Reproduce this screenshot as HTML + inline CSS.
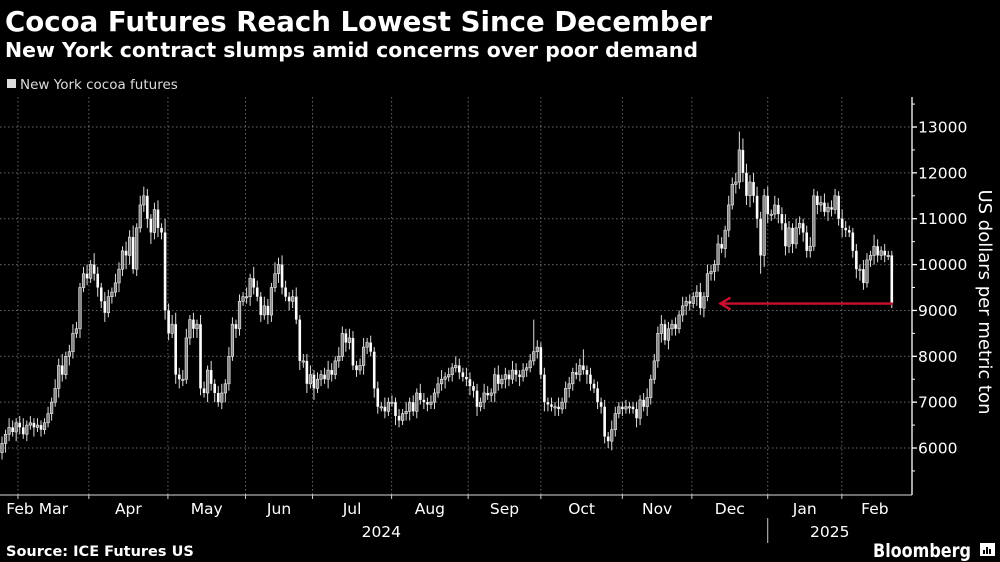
<!DOCTYPE html>
<html><head><meta charset="utf-8"><style>
html,body{margin:0;padding:0;background:#000;}
svg{display:block;}
text{font-family:"DejaVu Sans","Liberation Sans",sans-serif;}
</style></head><body>
<svg id="chart" width="1000" height="562" viewBox="0 0 1000 562" xmlns="http://www.w3.org/2000/svg">
<rect width="1000" height="562" fill="#000"/>
<text x="5" y="31" fill="#fff" font-weight="bold" font-size="28" textLength="707" lengthAdjust="spacingAndGlyphs">Cocoa Futures Reach Lowest Since December</text>
<text x="5" y="57" fill="#fff" font-weight="bold" font-size="20" textLength="693" lengthAdjust="spacingAndGlyphs">New York contract slumps amid concerns over poor demand</text>
<rect x="7" y="79" width="9" height="9" fill="#ddd"/>
<text x="20" y="89" fill="#ddd" font-size="13.5">New York cocoa futures</text>
<g id="grid"></g>
<g id="candles"></g>
<g id="axes"></g>
<text transform="translate(979,302) rotate(90)" text-anchor="middle" fill="#fff" font-size="18">US dollars per metric ton</text>
<text x="6" y="556" fill="#fff" font-weight="bold" font-size="14.5">Source: ICE Futures US</text>
<text x="873" y="557" fill="#fff" font-weight="bold" font-size="19" textLength="98" lengthAdjust="spacingAndGlyphs">Bloomberg</text>
<g>
<rect x="980" y="543" width="15" height="13" fill="#fff"/>
<rect x="983" y="550" width="2" height="4" fill="#000"/><rect x="986" y="547" width="2" height="7" fill="#000"/><rect x="989" y="549" width="2" height="5" fill="#000"/>
</g>
</svg>
<script>
const closes = [
6100,6300,6450,6350,6550,6450,6300,6500,6550,6450,
6500,6400,6550,6750,7000,7300,7800,7600,8000,8100,
8500,8600,9500,9800,9700,10000,9800,9500,9200,8950,
9300,9400,9600,9900,10300,10200,10600,9900,10800,11300,
11500,11000,10700,11200,10800,10700,9000,8500,8700,7600,
7500,7500,8400,8800,8600,8700,7300,7200,7700,7400,
7200,7000,7200,7400,8000,8700,8600,9200,9300,9300,
9700,9500,9300,8900,9100,8900,9500,9800,10000,9500,
9300,9200,9300,8800,7900,7900,7400,7600,7300,7500,
7600,7500,7700,7600,7900,8000,8500,8300,8400,7800,
7700,7800,8200,8300,8100,7300,6900,6900,6800,7000,
7000,6700,6600,6750,6800,7000,6800,7200,7050,7000,
6950,7000,7200,7400,7500,7550,7600,7750,7800,7650,
7550,7500,7350,7250,6900,7000,7200,7150,7200,7600,
7400,7500,7600,7500,7700,7600,7550,7700,7750,7900,
8100,8200,7600,7000,6950,6900,6900,6850,7000,7300,
7400,7650,7600,7800,7700,7600,7400,7300,7000,6900,
6250,6150,6400,6750,6900,6850,6900,6900,6850,6650,
7050,6900,7100,7500,7900,8500,8700,8350,8600,8700,
8600,8900,9100,9200,9150,9300,9400,9050,9300,9800,
9850,10000,10450,10350,10750,11300,11750,11800,12500,12000,
11500,11800,11500,11000,10200,11500,11100,11100,11300,11100,
10900,10400,10800,10450,10800,10900,10700,10300,10400,11500,
11300,11350,11150,11250,11200,11500,11000,10800,10750,10700,
10300,9900,9900,9600,10100,10200,10400,10200,10300,10200,
10200,9150];
const firstOpen = 5900;
const wickUp = [
150,100,200,150,100,150,200,100,150,100,
150,100,100,150,100,200,150,250,100,150,
200,150,100,150,200,100,250,150,100,200,
150,100,200,150,100,200,150,250,100,200,
200,150,100,150,200,100,300,150,200,250,
150,200,200,100,150,100,200,150,100,200,
100,150,200,100,200,150,100,150,100,200,
100,250,150,100,200,150,100,250,150,200,
150,100,150,200,100,150,150,200,100,150,
100,150,200,150,100,200,150,100,200,150,
100,150,200,100,150,100,150,100,200,100,
150,100,150,100,200,100,150,100,200,150,
100,150,100,150,200,100,150,100,200,150,
100,200,150,100,150,100,200,150,100,150,
200,100,150,100,200,150,100,150,100,150,
700,150,100,150,100,150,100,200,100,150,
150,100,200,150,350,100,150,100,150,100,
150,100,200,150,100,100,150,100,100,150,
100,150,200,100,150,150,200,100,150,100,
150,100,200,100,150,100,150,200,100,200,
150,100,200,150,100,200,150,200,400,250,
200,150,200,200,150,150,200,100,200,150,
150,200,150,100,200,150,100,150,200,150,
100,150,200,100,150,150,100,200,150,100,
100,150,100,200,150,100,250,150,100,150,
100,100];
const wickDn = [
150,200,150,100,200,150,100,150,100,200,
100,150,100,100,150,100,200,150,100,200,
150,100,200,100,150,100,150,200,150,200,
100,150,100,200,150,300,200,100,150,100,
150,200,250,150,200,150,200,150,100,200,
200,150,100,150,200,200,150,100,200,150,
200,100,150,200,150,100,200,150,100,150,
200,150,100,150,100,200,150,100,200,150,
100,200,150,100,200,150,200,100,250,100,
150,100,200,150,100,150,100,200,150,100,
150,100,200,150,100,200,150,100,150,100,
100,200,150,100,150,200,100,150,100,150,
150,100,150,100,150,200,100,150,100,150,
100,150,200,150,200,100,150,100,150,200,
150,100,200,150,100,150,200,100,150,100,
100,150,100,200,150,100,200,150,100,150,
200,150,100,150,100,200,150,100,150,150,
150,150,200,150,100,150,100,150,100,200,
150,100,200,150,100,150,200,100,200,150,
150,100,150,200,150,100,200,150,200,100,
150,200,150,100,200,150,100,200,150,200,
200,250,150,200,400,250,200,150,100,200,
150,200,150,200,100,150,200,150,150,100,
200,150,100,200,150,100,150,200,150,100,
150,200,250,150,100,150,200,150,100,150,
100,100];
const yTicks = [6000,7000,8000,9000,10000,11000,12000,13000];
const monthStarts = [4.5,24.5,46.8,68.7,87.6,109.9,131.5,152,175,194.6,216,236.9];
const monthLabels = ["Feb","Mar","Apr","May","Jun","Jul","Aug","Sep","Oct","Nov","Dec","Jan","Feb"];
const yearLabels = ["2024","2025"];
const yearCenters = [107,233.5];
const arrowTargetIndex = 202.4;

const NS = "http://www.w3.org/2000/svg";
const X0 = 2, STEP = 3.545, PLOT_RIGHT = 912, PLOT_TOP = 97, PLOT_BOTTOM = 495;
function xs(i){ return X0 + i*STEP; }
function ys(v){ return 127 + (13000 - v) * 0.04586; }
function mk(tag, attrs, parent){
  const e = document.createElementNS(NS, tag);
  for (const k in attrs) e.setAttribute(k, attrs[k]);
  parent.appendChild(e);
  return e;
}
const grid = document.getElementById('grid');
const cg = document.getElementById('candles');
const ax = document.getElementById('axes');

// horizontal gridlines + y labels
yTicks.forEach(v => {
  const y = ys(v);
  const g = mk('line', {x1:0, x2:PLOT_RIGHT, y1:y, y2:y, stroke:'#666', 'stroke-width':1, 'stroke-dasharray':'1.5,2.5'}, grid);
  
  
  const t = mk('line', {x1:PLOT_RIGHT, x2:PLOT_RIGHT+5, y1:y, y2:y, stroke:'#fff', 'stroke-width':1.3}, ax);
  
  
  const m = mk('line', {x1:PLOT_RIGHT, x2:PLOT_RIGHT+3, y1:ys(v+500), y2:ys(v+500), stroke:'#fff', 'stroke-width':1}, ax);
  
  
  const l = mk('text', {x:PLOT_RIGHT+6, y:y+5.5, fill:'#fff', 'font-size':15.5}, ax);
  l.textContent = v;
  
  
});
const bm = mk('line', {x1:PLOT_RIGHT, x2:PLOT_RIGHT+3, y1:ys(5500), y2:ys(5500), stroke:'#fff', 'stroke-width':1}, ax);



// vertical gridlines and month ticks
monthStarts.forEach(i => {
  const x = xs(i);
  const g = mk('line', {x1:x, x2:x, y1:PLOT_TOP, y2:PLOT_BOTTOM, stroke:'#666', 'stroke-width':1, 'stroke-dasharray':'1.5,2.5'}, grid);
  
  
  const t = mk('line', {x1:x, x2:x, y1:PLOT_BOTTOM, y2:PLOT_BOTTOM+4, stroke:'#ccc', 'stroke-width':1}, ax);
  
  
});
// month labels
const bounds = [0].concat(monthStarts.map(xs)).concat([908]);
monthLabels.forEach((m, k) => {
  let cx = (bounds[k] + bounds[k+1]) / 2;
  if (k === 0) cx = 20;
  const t = mk('text', {x:cx, y:514, fill:'#fff', 'font-size':15.5, 'text-anchor':'middle'}, ax);
  t.textContent = m;
  
  
});
yearLabels.forEach((yl, k) => {
  const t = mk('text', {x:xs(yearCenters[k]), y:537, fill:'#fff', 'font-size':15.5, 'text-anchor':'middle'}, ax);
  t.textContent = yl;
  
  
});
const sep = mk('line', {x1:xs(monthStarts[10]), x2:xs(monthStarts[10]), y1:518, y2:543, stroke:'#ccc', 'stroke-width':1}, ax);


const xa = mk('line', {x1:0, x2:PLOT_RIGHT, y1:PLOT_BOTTOM, y2:PLOT_BOTTOM, stroke:'#ddd', 'stroke-width':1}, ax);


const ya = mk('line', {x1:PLOT_RIGHT, x2:PLOT_RIGHT, y1:PLOT_TOP, y2:PLOT_BOTTOM, stroke:'#fff', 'stroke-width':1.3}, ax);



// candles
closes.forEach((c, i) => {
  const o = i === 0 ? firstOpen : closes[i-1];
  const top = Math.max(o, c), bot = Math.min(o, c);
  const hi = top + wickUp[i], lo = bot - wickDn[i];
  const x = xs(i);
  const w = mk('line', {x1:x, x2:x, y1:ys(hi), y2:ys(lo), stroke:'#ddd', 'stroke-width':1}, cg);
  
  
  const up = c >= o;
  const h = Math.max(1.2, ys(bot) - ys(top));
  const b = mk('rect', {x:x-1.3, y:ys(top), width:2.6, height:h, fill: up ? '#888' : '#fff', stroke: up ? '#eee' : 'none', 'stroke-width':0.6}, cg);
  
  
});

// red arrow from last close back to December level
const lastI = closes.length - 1;
const ay = ys(closes[lastI]);
const ar = mk('g', {stroke:'#c8102e', 'stroke-width':2.4, fill:'none'}, cg);


mk('line', {x1:xs(lastI)+1, x2:xs(arrowTargetIndex), y1:ay, y2:ay}, ar);
mk('polyline', {points:`${xs(arrowTargetIndex)+11},${ay-6} ${xs(arrowTargetIndex)+1},${ay} ${xs(arrowTargetIndex)+11},${ay+6}`}, ar);
</script>
</body></html>
